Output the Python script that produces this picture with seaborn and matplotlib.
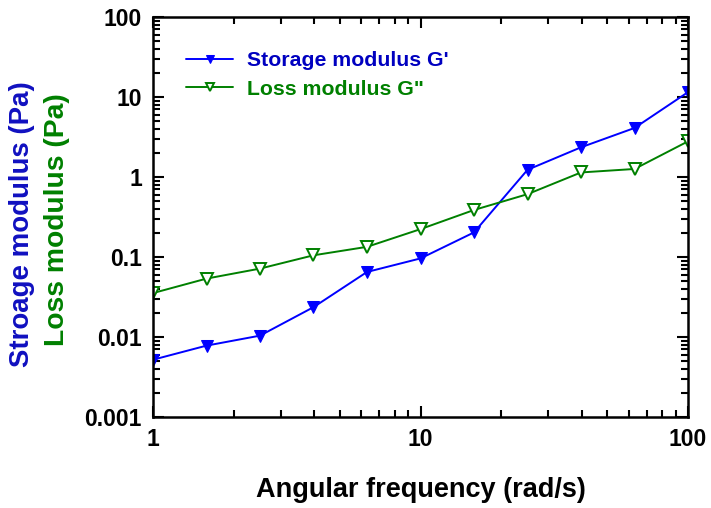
import matplotlib
matplotlib.use("Agg")
import matplotlib.pyplot as plt
import seaborn as sns
import pandas as pd
import numpy as np
from matplotlib.ticker import LogLocator, NullFormatter, FixedLocator, FixedFormatter

freq = [1, 1.585, 2.512, 3.981, 6.31, 10, 15.85, 25.12, 39.81, 63.1, 100]
storage = [0.0052, 0.0078, 0.0104, 0.0236, 0.065, 0.096, 0.203, 1.23, 2.35, 4.1, 11.5]
loss = [0.0354, 0.0537, 0.0716, 0.105, 0.134, 0.223, 0.387, 0.61, 1.14, 1.26, 2.79]

xticks = [1, 10, 100]
xticklabels = ["1", "10", "100"]
yticks = [0.001, 0.01, 0.1, 1, 10, 100]
yticklabels = ["0.001", "0.01", "0.1", "1", "10", "100"]

sns.set_style("ticks")
plt.rcParams["font.family"] = ["Liberation Sans", "DejaVu Sans"]
plt.rcParams["font.weight"] = "bold"
plt.rcParams["text.color"] = "black"
plt.rcParams["axes.labelcolor"] = "black"
plt.rcParams["xtick.color"] = "black"
plt.rcParams["ytick.color"] = "black"

fig = plt.figure(figsize=(7.11, 5.08), dpi=100)
ax = fig.add_axes([153/711, 1-417/508, (688-153)/711, (417-17)/508])

df = pd.DataFrame({"freq": freq, "storage": storage, "loss": loss})
sns.lineplot(data=df, x="freq", y="storage", ax=ax, color="#0000ff", marker="v",
             markersize=8, markeredgecolor="#0000ff", markerfacecolor="#0000ff",
             linewidth=1.4, label="Storage modulus G'")
sns.lineplot(data=df, x="freq", y="loss", ax=ax, color="#008000", marker="v",
             markersize=8, markeredgecolor="#008000", markerfacecolor="white",
             markeredgewidth=1.4, linewidth=1.4, label="Loss modulus G\"")

ax.set_xscale("log")
ax.set_yscale("log")
ax.set_xlim(1, 100)
ax.set_ylim(0.001, 100)
ax.xaxis.set_major_locator(FixedLocator(xticks))
ax.xaxis.set_major_formatter(FixedFormatter(xticklabels))
ax.yaxis.set_major_locator(FixedLocator(yticks))
ax.yaxis.set_major_formatter(FixedFormatter(yticklabels))
ax.xaxis.set_minor_locator(LogLocator(base=10, subs=np.arange(2, 10)))
ax.yaxis.set_minor_locator(LogLocator(base=10, subs=np.arange(2, 10)))
ax.xaxis.set_minor_formatter(NullFormatter())
ax.yaxis.set_minor_formatter(NullFormatter())
ax.tick_params(which="both", direction="in", top=True, right=True, width=1.5,
               colors="black", labelcolor="black")
ax.tick_params(which="major", length=8, labelsize=16.5, pad=8)
ax.tick_params(which="minor", length=5)
for lab in ax.get_xticklabels() + ax.get_yticklabels():
    lab.set_fontweight("bold")
for s in ax.spines.values():
    s.set_linewidth(1.8)
    s.set_color("black")

ax.set_xlabel("")
ax.set_ylabel("")
fig.text(420.5/711, 1-490/508, "Angular frequency (rad/s)", ha="center", va="center",
         fontsize=19.5, fontweight="bold", color="black")

fig.text(22.5/711, 1-224.5/508, "Stroage modulus (Pa)", rotation=90, ha="center", va="center",
         fontsize=19.9, fontweight="bold", color="#1010c0")
fig.text(56.5/711, 1-219.5/508, "Loss modulus (Pa)", rotation=90, ha="center", va="center",
         fontsize=20.3, fontweight="bold", color="#008000")

leg = ax.legend(loc="upper left", bbox_to_anchor=(0.062, 0.915), frameon=False,
                borderaxespad=0, borderpad=0,
                fontsize=15.3, handlelength=2.2, handletextpad=0.66, labelspacing=0.45,
                markerscale=0.75)
for t, c in zip(leg.get_texts(), ["#0000c0", "#008000"]):
    t.set_color(c)
    t.set_fontweight("bold")

fig.savefig("out.png", dpi=100)
